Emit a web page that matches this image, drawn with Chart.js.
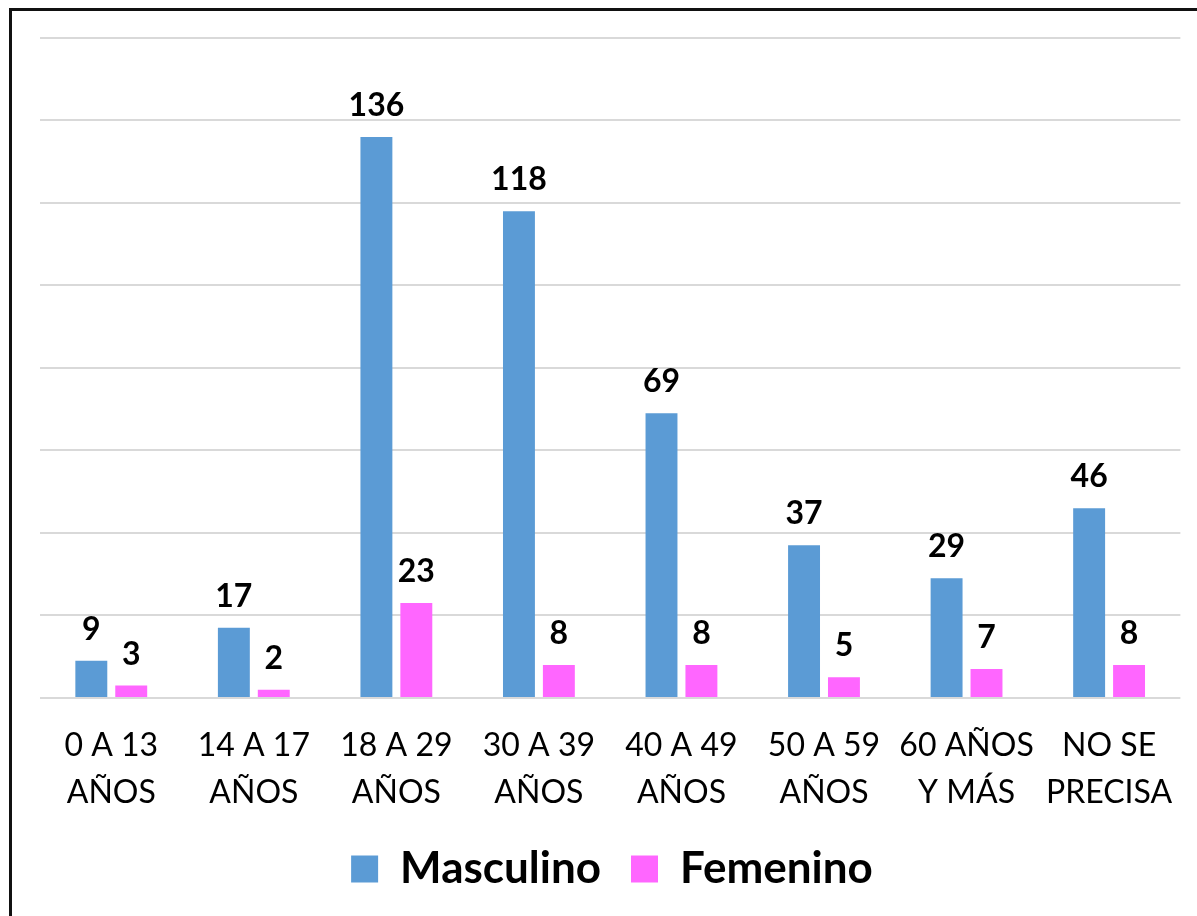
<!DOCTYPE html>
<html>
<head>
<meta charset="utf-8">
<script src="https://cdn.jsdelivr.net/npm/chart.js@4"></script>
<style>
  html,body{margin:0;padding:0;background:#fff;overflow:hidden;}
  #wrap{position:relative;width:1197px;height:916px;}
  #frame{position:absolute;left:9px;top:8px;width:1300px;height:1000px;border-left:3px solid #111;border-top:3px solid #111;box-sizing:border-box;}
  canvas{position:absolute;left:0;top:0;}
</style>
</head>
<body>
<div id="wrap">
  <div id="frame"></div>
  <canvas id="c" width="1197" height="916"></canvas>
</div>
<script>
const categories = [["0 A 13","AÑOS"],["14 A 17","AÑOS"],["18 A 29","AÑOS"],["30 A 39","AÑOS"],["40 A 49","AÑOS"],["50 A 59","AÑOS"],["60 AÑOS","Y MÁS"],["NO SE","PRECISA"]];
const masculino = [9,17,136,118,69,37,29,46];
const femenino = [3,2,23,8,8,5,7,8];
const seriesNames = ["Masculino","Femenino"];
const FONT = "Lato, 'Open Sans', sans-serif";

const valueLabels = {
  id:'valueLabels',
  afterDatasetsDraw(chart){
    const ctx = chart.ctx;
    ctx.save();
    ctx.font = "bold 32px " + FONT;
    ctx.fillStyle = "#000";
    ctx.textAlign = "center";
    ctx.textBaseline = "alphabetic";
    chart.data.datasets.forEach((ds,i)=>{
      const meta = chart.getDatasetMeta(i);
      meta.data.forEach((el,j)=>{
        ctx.fillText(String(ds.data[j]), el.x, el.y - 21);
      });
    });
    ctx.restore();
  }
};

new Chart(document.getElementById('c'), {
  type:'bar',
  data:{
    labels: categories,
    datasets:[
      {label:seriesNames[0], data:masculino, backgroundColor:'#5B9BD5', categoryPercentage:0.56, barPercentage:0.8},
      {label:seriesNames[1], data:femenino, backgroundColor:'#FF66FF', categoryPercentage:0.56, barPercentage:0.8}
    ]
  },
  options:{
    responsive:false,
    animation:false,
    devicePixelRatio:1,
    layout:{padding:{left:40,right:13,top:38,bottom:15}},
    plugins:{
      legend:{
        position:'bottom',
        labels:{
          font:{family:FONT,size:44,weight:'bold'},
          color:'#000',
          boxWidth:27, boxHeight:27,
          padding:30
        }
      },
      tooltip:{enabled:false}
    },
    scales:{
      x:{
        grid:{display:false, drawTicks:false},
        border:{display:false},
        ticks:{font:{family:FONT,size:32,lineHeight:1.47},color:'#000',padding:24,maxRotation:0,autoSkip:false},
        afterFit(scale){ scale.height -= 23; }
      },
      y:{
        min:0,max:160,
        ticks:{display:false,stepSize:20},
        grid:{color:'#d9d9d9',lineWidth:2,drawTicks:false},
        border:{display:false}
      }
    }
  },
  plugins:[valueLabels]
});
</script>
</body>
</html>
